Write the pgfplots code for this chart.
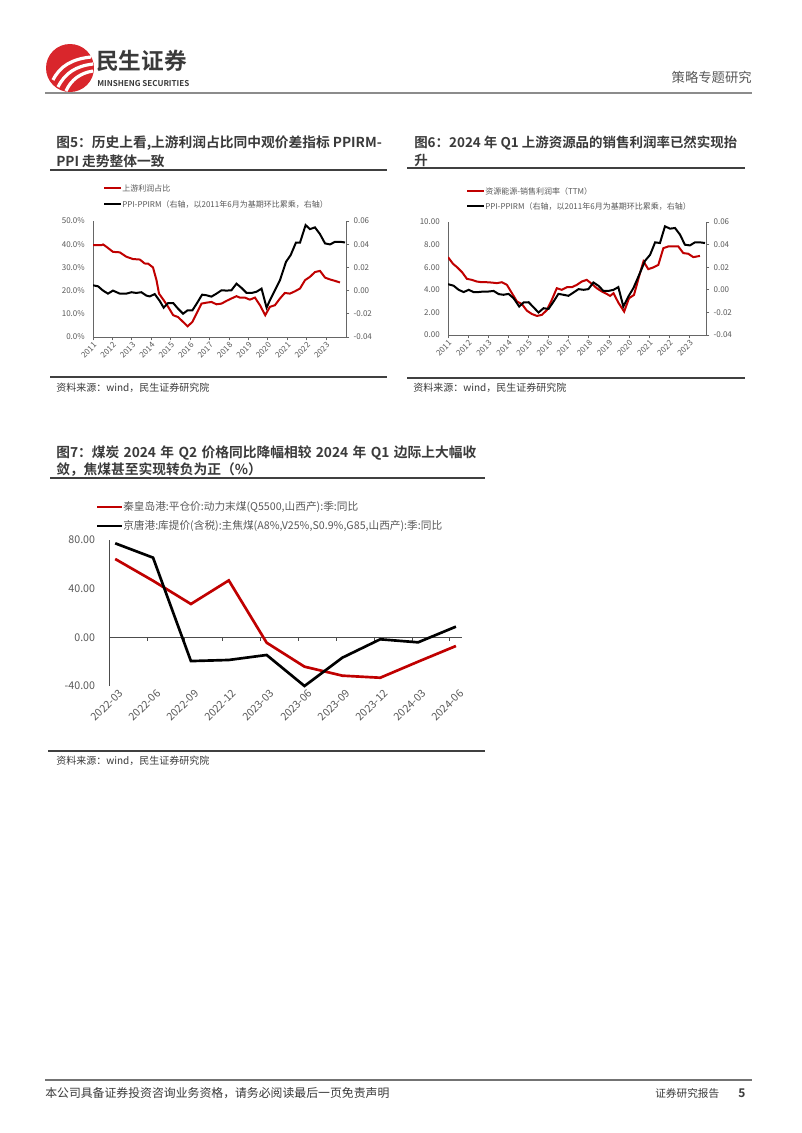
\documentclass[border=0pt]{standalone}
\usepackage{fontspec}
\setmainfont{Noto Sans CJK SC}[BoldFont={Noto Sans CJK SC Bold}]
\usepackage{pgfplots}
\pgfplotsset{compat=1.18}
\definecolor{myred}{HTML}{C00000}
\definecolor{txtgray}{HTML}{595959}
\definecolor{titlegray}{HTML}{3A3A3A}
\definecolor{logored}{HTML}{D9262C}
\newcommand{\fs}[1]{\fontsize{#1}{#1}\selectfont}
\pgfplotsset{
  pagechart/.style={
    scale only axis, anchor=south west,
    /pgf/number format/1000 sep={},
    /pgf/number format/assume math mode=true,
    tick align=outside, major tick length=2.5pt,
    axis line style={black!60, line width=0.6pt},
    tick style={black!60, line width=0.5pt},
  },
}
\begin{document}
\begin{tikzpicture}
\begin{scope}[x=0.75pt,y=-0.75pt]
\path[use as bounding box, fill=white] (0,0) rectangle (802,1133);

% ---------- header ----------
\fill[logored] (70,68) circle (24);
\draw[white, line width=2.4pt] (53,80) .. controls (60,66) and (72,59) .. (91,57);
\draw[white, line width=2.4pt] (58,87) .. controls (65,73) and (76,66) .. (93,64);
\draw[white, line width=2.4pt] (66,91) .. controls (71,80) and (80,73) .. (93,71);
\node[anchor=west, inner sep=0pt, text=titlegray] at (96,61) {\fs{17}\bfseries 民生证券};
\node[anchor=west, inner sep=0pt, text=titlegray] at (97,84) {\resizebox{69pt}{!}{\bfseries MINSHENG SECURITIES}};
\node[anchor=east, inner sep=0pt, text=txtgray] at (752,77) {\fs{10}策略专题研究};
\draw[black!45, line width=1.5pt] (45,93) -- (752,93);

% ---------- chart 5 texts ----------
\node[anchor=west, inner sep=0pt, text=titlegray] at (56,143) {\fs{10.3}\bfseries 图5：历史上看,上游利润占比同中观价差指标 PPIRM-};
\node[anchor=west, inner sep=0pt, text=titlegray] at (56,161) {\fs{10.3}\bfseries PPI 走势整体一致};
\draw[black!75, line width=1.2pt] (50,170) -- (387,170);
\draw[myred, line width=1.5pt] (104,188) -- (121,188);
\node[anchor=west, inner sep=0pt, text=txtgray] at (122,188) {\fs{6}上游利润占比};
\draw[black, line width=1.5pt] (104,204) -- (121,204);
\node[anchor=west, inner sep=0pt, text=txtgray] at (122,204) {\fs{6}PPI-PPIRM（右轴，以2011年6月为基期环比累乘，右轴）};
\draw[black!75, line width=1.2pt] (50,377) -- (387,377);
\node[anchor=west, inner sep=0pt, text=titlegray] at (56,388) {\fs{7.5}资料来源：wind，民生证券研究院};

% ---------- chart 6 texts ----------
\node[anchor=west, inner sep=0pt, text=titlegray] at (414,143) {\fs{10.1}\bfseries 图6：2024 年 Q1 上游资源品的销售利润率已然实现抬};
\node[anchor=west, inner sep=0pt, text=titlegray] at (414,160) {\fs{10.1}\bfseries 升};
\draw[black!75, line width=1.2pt] (407,168) -- (745,168);
\draw[myred, line width=1.5pt] (467,191) -- (484,191);
\node[anchor=west, inner sep=0pt, text=txtgray] at (485,191) {\fs{6}资源能源-销售利润率（TTM）};
\draw[black, line width=1.5pt] (467,206) -- (484,206);
\node[anchor=west, inner sep=0pt, text=txtgray] at (485,206) {\fs{6}PPI-PPIRM（右轴，以2011年6月为基期环比累乘，右轴）};
\draw[black!75, line width=1.2pt] (407,378) -- (745,378);
\node[anchor=west, inner sep=0pt, text=titlegray] at (413,388) {\fs{7.5}资料来源：wind，民生证券研究院};

% ---------- chart 7 texts ----------
\node[anchor=west, inner sep=0pt, text=titlegray] at (56,453) {\fs{10.3}\bfseries\makebox[315pt][s]{图7：煤炭 2024 年 Q2 价格同比降幅相较 2024 年 Q1 边际上大幅收}};
\node[anchor=west, inner sep=0pt, text=titlegray] at (56,470) {\fs{10.3}\bfseries 敛，焦煤甚至实现转负为正（\%）};
\draw[black!75, line width=1.2pt] (50,478) -- (485,478);
\draw[myred, line width=2pt] (97,507) -- (122,507);
\node[anchor=west, inner sep=0pt, text=txtgray] at (123,507) {\fs{8}秦皇岛港:平仓价:动力末煤(Q5500,山西产):季:同比};
\draw[black, line width=2pt] (97,526) -- (122,526);
\node[anchor=west, inner sep=0pt, text=txtgray] at (123,526) {\fs{8}京唐港:库提价(含税):主焦煤(A8\%,V25\%,S0.9\%,G85,山西产):季:同比};
\draw[black!75, line width=1.2pt] (48,751) -- (485,751);
\node[anchor=west, inner sep=0pt, text=titlegray] at (56,761) {\fs{7.5}资料来源：wind，民生证券研究院};

% ---------- footer ----------
\draw[black!55, line width=1.2pt] (45,1080) -- (752,1080);
\node[anchor=west, inner sep=0pt, text=titlegray] at (45,1093) {\fs{8.9}本公司具备证券投资咨询业务资格，请务必阅读最后一页免责声明};
\node[anchor=west, inner sep=0pt, text=titlegray] at (655,1093) {\fs{8}证券研究报告};
\node[anchor=west, inner sep=0pt, text=titlegray] at (738,1093) {\fs{9}\bfseries 5};
\end{scope}

% ---------- chart 5 axes ----------
\begin{axis}[pagechart, at={(69.75pt,-252.75pt)}, width=189.75pt, height=87pt,
  xmin=2011, xmax=2024.03, ymin=0, ymax=50,
  axis x line*=bottom, axis y line*=left,
  xtick={2011,...,2023},
  xticklabel style={rotate=45, anchor=north east, inner sep=0.5pt, font=\fs{6}, text=txtgray},
  ytick={0,10,20,30,40,50},
  y tick style={draw=none},
  yticklabel={\pgfmathprintnumber[fixed,fixed zerofill,precision=1]{\tick}\%},
  yticklabel style={font=\fs{6}, text=txtgray, inner sep=0pt, xshift=-3.5pt},
]
\addplot[myred, line width=1.5pt] coordinates {
(2011.00,39.6)(2011.43,39.6)(2011.52,39.9)(2011.69,38.9)(2012.03,36.7)(2012.38,36.5)
(2012.72,34.6)(2013.06,33.6)(2013.41,33.4)(2013.66,31.7)(2013.84,31.6)(2014.09,30.0)
(2014.27,24.5)(2014.40,18.7)(2014.64,15.9)(2014.87,13.0)(2015.13,9.4)(2015.38,8.6)
(2015.64,6.5)(2015.87,4.6)(2016.12,6.5)(2016.33,10.1)(2016.59,14.4)(2016.84,14.8)
(2017.10,15.1)(2017.36,14.1)(2017.62,14.4)(2017.88,15.6)(2018.13,16.6)(2018.39,17.6)
(2018.56,17.0)(2018.82,17.0)(2019.08,16.1)(2019.34,17.0)(2019.60,13.7)(2019.87,9.4)
(2020.11,13.0)(2020.37,13.7)(2020.63,16.6)(2020.88,19.0)(2021.14,18.7)(2021.40,19.7)
(2021.66,20.9)(2021.92,24.5)(2022.17,25.9)(2022.43,28.0)(2022.69,28.5)(2022.95,25.6)
(2023.21,24.8)(2023.46,24.2)(2023.72,23.5)};
\end{axis}
\begin{axis}[pagechart, at={(69.75pt,-252.75pt)}, width=189.75pt, height=87pt,
  xmin=2011, xmax=2024.03, ymin=-0.04, ymax=0.06,
  axis x line=none, axis y line*=right,
  ytick={-0.04,-0.02,0,0.02,0.04,0.06}, scaled y ticks=false,
  yticklabel={\pgfmathprintnumber[fixed,fixed zerofill,precision=2]{\tick}},
  yticklabel style={font=\fs{6}, text=txtgray, inner sep=0pt, xshift=3pt},
]
\addplot[black, line width=1.5pt] coordinates {
(2011.00,0.0046)(2011.26,0.0037)(2011.52,0.0)(2011.77,-0.0026)(2012.03,0.0)(2012.38,-0.0026)
(2012.72,-0.0026)(2012.98,-0.0014)(2013.23,-0.0020)(2013.49,-0.0014)(2013.75,-0.0043)
(2013.92,-0.0050)(2014.18,-0.0030)(2014.44,-0.0090)(2014.64,-0.0147)(2014.87,-0.0107)
(2015.13,-0.0107)(2015.38,-0.0156)(2015.64,-0.0199)(2015.87,-0.0170)(2016.12,-0.0170)
(2016.36,-0.0107)(2016.62,-0.0035)(2016.84,-0.0040)(2017.10,-0.0052)(2017.36,-0.0026)
(2017.62,0.0003)(2017.88,0.0)(2018.13,0.0003)(2018.39,0.0060)(2018.65,0.0023)
(2018.91,-0.0020)(2019.17,-0.0020)(2019.42,-0.0010)(2019.68,0.0017)(2019.94,-0.0147)
(2020.11,-0.0084)(2020.37,0.0003)(2020.63,0.0090)(2020.94,0.0248)(2021.18,0.0306)
(2021.45,0.0413)(2021.66,0.0413)(2021.95,0.0565)(2022.17,0.0530)(2022.43,0.0545)
(2022.69,0.0487)(2022.95,0.0407)(2023.21,0.0398)(2023.46,0.0421)(2023.72,0.0421)
(2023.98,0.0415)};
\end{axis}

% ---------- chart 6 axes ----------
\begin{axis}[pagechart, at={(336pt,-251.25pt)}, width=193.5pt, height=84.75pt,
  xmin=2011, xmax=2023.83, ymin=0, ymax=10,
  axis x line*=bottom, axis y line*=left,
  xtick={2011,...,2023},
  xticklabel style={rotate=45, anchor=north east, inner sep=0.5pt, font=\fs{6}, text=txtgray},
  ytick={0,2,4,6,8,10},
  y tick style={draw=none},
  yticklabel={\pgfmathprintnumber[fixed,fixed zerofill,precision=2]{\tick}},
  yticklabel style={font=\fs{6}, text=txtgray, inner sep=0pt, xshift=-3.5pt},
]
\addplot[myred, line width=1.5pt] coordinates {
(2011.00,6.89)(2011.25,6.30)(2011.45,6.00)(2011.70,5.56)(2011.94,4.97)(2012.19,4.88)
(2012.44,4.73)(2012.69,4.67)(2012.94,4.67)(2013.18,4.64)(2013.43,4.59)(2013.68,4.67)
(2013.93,4.44)(2014.18,3.70)(2014.43,2.96)(2014.67,2.75)(2014.92,2.16)(2015.17,1.86)
(2015.42,1.69)(2015.67,1.78)(2015.92,2.22)(2016.16,3.10)(2016.41,4.14)(2016.66,4.00)
(2016.91,4.23)(2017.16,4.23)(2017.41,4.44)(2017.65,4.73)(2017.90,4.88)(2018.15,4.53)
(2018.40,4.14)(2018.65,3.85)(2018.89,3.64)(2019.06,3.46)(2019.23,3.70)(2019.47,2.87)
(2019.76,2.07)(2020.00,3.25)(2020.25,3.55)(2020.50,5.18)(2020.72,6.51)(2020.96,5.83)
(2021.21,5.98)(2021.46,6.21)(2021.71,7.69)(2021.96,7.84)(2022.21,7.84)(2022.45,7.84)
(2022.70,7.25)(2022.95,7.19)(2023.20,6.89)(2023.53,7.00)};
\end{axis}
\begin{axis}[pagechart, at={(336pt,-251.25pt)}, width=193.5pt, height=84.75pt,
  xmin=2011, xmax=2023.83, ymin=-0.04, ymax=0.06,
  axis x line=none, axis y line*=right,
  ytick={-0.04,-0.02,0,0.02,0.04,0.06}, scaled y ticks=false,
  yticklabel={\pgfmathprintnumber[fixed,fixed zerofill,precision=2]{\tick}},
  yticklabel style={font=\fs{6}, text=txtgray, inner sep=0pt, xshift=3pt},
]
\addplot[black, line width=1.5pt] coordinates {
(2011.00,0.0050)(2011.28,0.0036)(2011.53,0.0)(2011.78,-0.0020)(2012.03,0.0)(2012.27,-0.0020)
(2012.52,-0.0020)(2012.77,-0.0015)(2013.02,-0.0015)(2013.27,-0.0010)(2013.52,-0.0038)
(2013.76,-0.0044)(2014.01,-0.0036)(2014.26,-0.0074)(2014.54,-0.0148)(2014.76,-0.0112)
(2015.01,-0.0110)(2015.25,-0.0154)(2015.50,-0.0201)(2015.75,-0.0163)(2016.00,-0.0169)
(2016.25,-0.0104)(2016.49,-0.0036)(2016.74,-0.0044)(2016.99,-0.0053)(2017.24,-0.0024)
(2017.49,0.0006)(2017.74,0.0)(2017.98,0.0006)(2018.23,0.0065)(2018.48,0.0036)
(2018.73,-0.0010)(2018.98,-0.0010)(2019.23,0.0)(2019.47,0.0024)(2019.72,-0.0148)
(2019.97,-0.0059)(2020.22,0.0015)(2020.47,0.0118)(2020.80,0.0257)(2021.05,0.0310)
(2021.30,0.0420)(2021.54,0.0414)(2021.79,0.0562)(2022.04,0.0541)(2022.29,0.0547)
(2022.54,0.0488)(2022.78,0.0399)(2023.03,0.0393)(2023.28,0.0420)(2023.53,0.0420)
(2023.78,0.0414)};
\end{axis}

% ---------- chart 7 axis ----------
\begin{axis}[pagechart, at={(82pt,-514.5pt)}, width=264.5pt, height=109.5pt,
  xmin=-0.155, xmax=9.16, ymin=-40, ymax=80,
  axis x line*=bottom, axis y line*=left,
  x axis line style={draw=none},
  y axis line style={black!70, line width=0.8pt},
  xtick={0,...,9},
  xticklabels={2022-03,2022-06,2022-09,2022-12,2023-03,2023-06,2023-09,2023-12,2024-03,2024-06},
  x tick style={draw=none}, y tick style={draw=none},
  xticklabel style={rotate=45, anchor=north east, inner sep=1pt, font=\fs{8}, text=txtgray, xshift=3pt},
  ytick={-40,0,40,80},
  yticklabel={\pgfmathprintnumber[fixed,fixed zerofill,precision=2]{\tick}},
  yticklabel style={font=\fs{8}, text=txtgray, inner sep=0pt, xshift=-8pt},
  clip=false,
]
\draw[black!70, line width=0.8pt] (axis cs:-0.155,0) -- (axis cs:9.16,0);
\pgfplotsinvokeforeach{0,...,8}{\draw[black!70, line width=0.6pt] (axis cs:#1.84,0) -- ++(0pt,-3pt);}
\addplot[myred, line width=2pt] coordinates {
(0,64.4)(1,46.5)(2,27.4)(3,46.8)(4,-4.4)(5,-24.1)(6,-31.5)(7,-33.2)(8,-20.0)(9,-7.1)};
\addplot[black, line width=2pt] coordinates {
(0,77.3)(1,65.5)(2,-19.5)(3,-18.6)(4,-14.5)(5,-40.0)(6,-16.7)(7,-1.6)(8,-4.1)(9,8.8)};
\end{axis}
\end{tikzpicture}
\end{document}
